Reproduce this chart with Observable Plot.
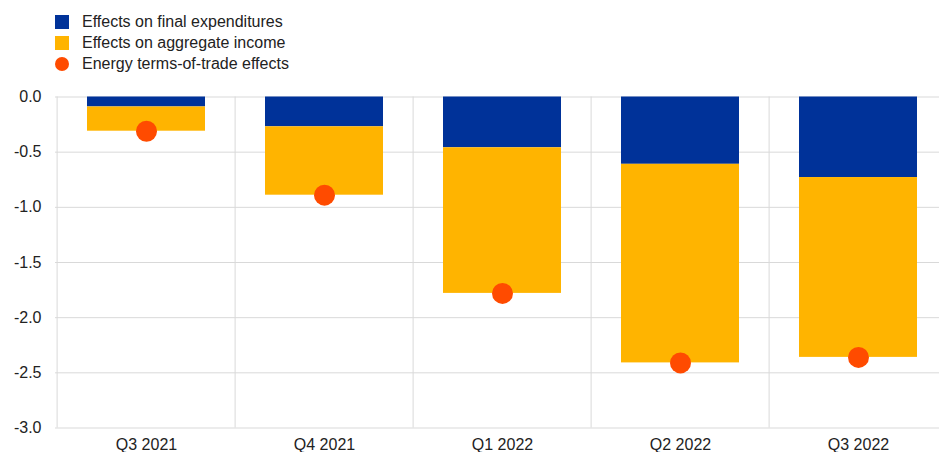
<!DOCTYPE html>
<html>
<head>
<meta charset="utf-8">
<script src="https://cdn.jsdelivr.net/npm/d3@7"></script>
<script src="https://cdn.jsdelivr.net/npm/@observablehq/plot@0.6"></script>
<style>
  html, body { margin: 0; padding: 0; background: #fff; }
  body { font-family: "Liberation Sans", Arial, sans-serif; width: 939px; height: 452px; overflow: hidden; }
  #legend { height: 80px; position: relative; }
  .item { position: absolute; left: 55px; font-size: 16px; color: #222; line-height: 20px; }
  .sw { position: absolute; left: 0; top: 3px; width: 14px; height: 14px; }
  .item span.t { position: absolute; left: 27px; white-space: nowrap; }
  svg { display: block; }
</style>
</head>
<body>
<div id="legend"></div>
<div id="chart"></div>
<script>
const quarters = ["Q3 2021", "Q4 2021", "Q1 2022", "Q2 2022", "Q3 2022"];
const finalExpenditures = [-0.09, -0.27, -0.46, -0.61, -0.73];
const aggregateIncome = [-0.22, -0.62, -1.32, -1.80, -1.63];
const termsOfTrade = [-0.31, -0.89, -1.78, -2.41, -2.36];
const seriesNames = ["Effects on final expenditures", "Effects on aggregate income", "Energy terms-of-trade effects"];
const seriesColors = ["#003299", "#FFB400", "#FF4B00"];
const yTicks = [0, -0.5, -1, -1.5, -2, -2.5, -3];

// legend
const legend = document.getElementById("legend");
seriesNames.forEach((name, i) => {
  const div = document.createElement("div");
  div.className = "item";
  div.style.top = (12 + i * 21) + "px";
  const sw = document.createElement("span");
  sw.className = "sw";
  sw.style.background = seriesColors[i];
  if (i === 2) sw.style.borderRadius = "50%";
  const t = document.createElement("span");
  t.className = "t";
  t.textContent = name;
  div.appendChild(sw);
  div.appendChild(t);
  legend.appendChild(div);
});

const bars = [];
quarters.forEach((q, i) => {
  bars.push({q, series: seriesNames[0], value: finalExpenditures[i]});
  bars.push({q, series: seriesNames[1], value: aggregateIncome[i]});
});
const dots = quarters.map((q, i) => ({q, value: termsOfTrade[i]}));

const step = (949 - 55) / quarters.length;

const chart = Plot.plot({
  width: 939,
  height: 372,
  marginLeft: 55,
  marginRight: 0,
  marginTop: 16.5,
  marginBottom: 24.5,
  style: {fontFamily: "Liberation Sans, Arial, sans-serif", fontSize: "16px", color: "#222"},
  x: {domain: quarters, range: [55, 949], paddingInner: 0.335, paddingOuter: 0.1675},
  y: {domain: [-3, 0], range: [347.5, 16.5]},
  color: {domain: seriesNames.slice(0, 2), range: seriesColors.slice(0, 2)},
  marks: [
    Plot.ruleY(yTicks, {stroke: "#d9d9d9", strokeWidth: 1}),
    Plot.ruleX(quarters, {x: d => d, dx: -step / 2, y1: 0, y2: -3, stroke: "#d9d9d9", strokeWidth: 1}),
    Plot.barY(bars, {x: "q", y: "value", fill: "series", order: seriesNames}),
    Plot.dot(dots, {x: "q", y: "value", r: 10.5, fill: seriesColors[2], stroke: "none"}),
    Plot.axisY({ticks: yTicks, tickFormat: d => d.toFixed(1), tickSize: 0, tickPadding: 14, label: null, fill: "#222"}),
    Plot.axisX({tickSize: 0, tickPadding: 11, label: null, fill: "#222"})
  ]
});
document.getElementById("chart").appendChild(chart);
</script>
</body>
</html>
